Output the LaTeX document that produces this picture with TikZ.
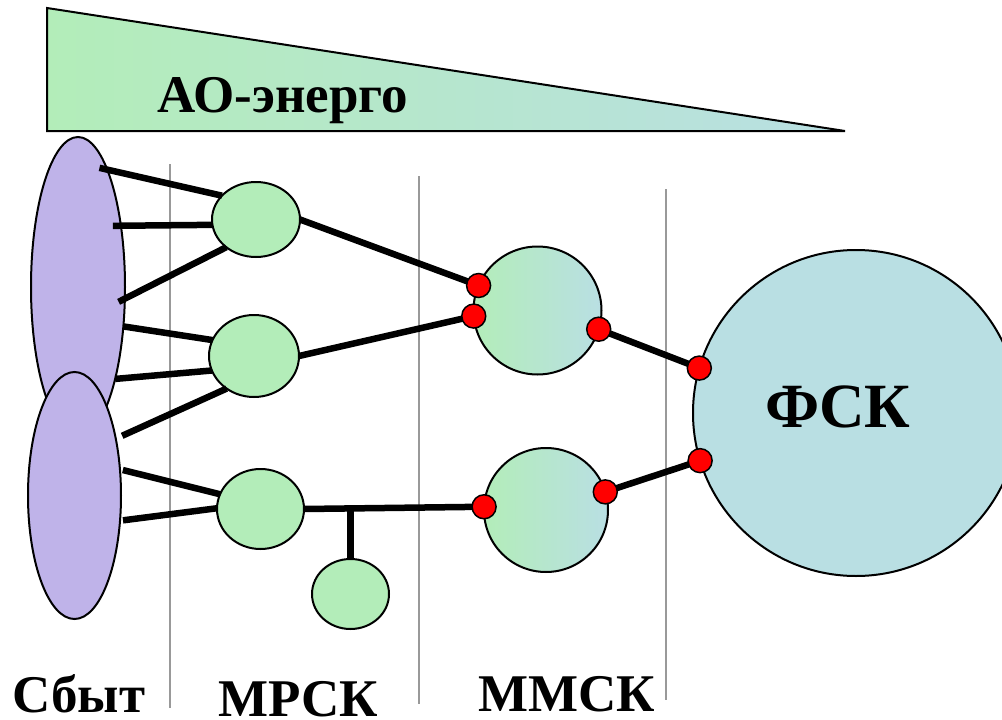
\documentclass[tikz,border=0pt]{standalone}
\usepackage{fontspec}
\setmainfont{Liberation Serif}
\usetikzlibrary{shapes.geometric, positioning}
\usepackage{xcolor}
\definecolor{sbytfill}{HTML}{BFB3E9}
\definecolor{mrskfill}{HTML}{B3EDB9}
\definecolor{fskfill}{HTML}{B9DFE3}
\definecolor{divgray}{HTML}{999999}

\begin{document}
\begin{tikzpicture}[x=1pt, y=-1pt,
    sbyt/.style={draw, ellipse, fill=sbytfill, line width=2pt, inner sep=0pt, outer sep=0pt},
    mrsk/.style={draw, ellipse, fill=mrskfill, line width=2pt, inner sep=0pt, outer sep=0pt},
    mmsk/.style={draw, circle, left color=mrskfill, right color=fskfill, line width=2pt, inner sep=0pt, outer sep=0pt},
    port/.style={draw, circle, fill=red, line width=1.5pt, minimum size=24pt, inner sep=0pt},
    link/.style={line width=6.5pt},
    divider/.style={divgray, line width=1.8pt},
    big/.style={font=\bfseries\fontsize{53}{60}\selectfont, inner sep=0pt, anchor=base},
    huge/.style={font=\bfseries\fontsize{63}{72}\selectfont, inner sep=0pt, anchor=base}]

    \useasboundingbox (0,0) rectangle (1002,720);

    % AO-energo wedge
    \shadedraw[left color=mrskfill, right color=fskfill, line width=2pt] (47,8) -- (845,131) -- (47,131) -- cycle;
    \node[big] (aolabel) at (283,112) {АО-энерго};

    % dividers
    \draw[divider] (170,164) -- (170,708);
    \draw[divider] (419,176) -- (419,704);
    \draw[divider] (666,189) -- (666,700);

    \node[sbyt, minimum width=94pt, minimum height=300pt] (sb1) at (78,287) {};
    \node[sbyt, minimum width=93pt, minimum height=247pt] (sb2) at (74.5,495.5) {};

    \node[mrsk, minimum width=88pt, minimum height=75pt] (g1) at (256,219.5) {};
    \node[mrsk, minimum width=90pt, minimum height=82pt] (g2) at (254,356) {};
    \node[mrsk, minimum width=87pt, minimum height=80pt] (g3) at (260.5,509) {};
    \node[mrsk, minimum width=77pt, minimum height=70pt] (g4) at (350.5,594) {};

    \node[mmsk, minimum size=128pt] (mm1) at (537.5,310.5) {};
    \node[mmsk, minimum size=124pt] (mm2) at (546,510) {};
    \node[draw, circle, fill=fskfill, line width=2pt, minimum size=326pt, inner sep=0pt, outer sep=0pt] (fsk) at (856,413) {};
    \node[huge] (fsklabel) at (838,427) {ФСК};

    % ports
    \coordinate (p1) at (mm1.157);
    \coordinate (p2) at (mm1.185);
    \coordinate (p3) at (mm1.-17);
    \coordinate (p4) at (fsk.164);
    \coordinate (p5) at (fsk.197);
    \coordinate (p6) at (mm2.177);
    \coordinate (p7) at (mm2.17);

    \draw[link, shorten <=-8pt] (sb1.76) -- (g1.145);
    \draw[link, shorten <=-8pt] (sb1.55) -- (g1.187);
    \draw[link, shorten <=-7pt] (sb1.-14) -- (g1.223);
    \draw[link] (sb1.-41) -- (g2.159);
    \draw[link] (sb1.-68) -- (g2.199);
    \draw[link, shorten <=7pt] (sb2.54) -- (g2.230);
    \draw[link, shorten <=3pt] (sb2.30) -- (g3.160);
    \draw[link, shorten <=3pt] (sb2.-29) -- (g3.179);

    \draw[link] (g1.east) -- (p1);
    \draw[link] (g2.east) -- (p2);
    \draw[link] (g3.east) -- (p6);
    \draw[link] (g4.north) -- (g4.north |- g3.east);
    \draw[link] (p3) -- (p4);
    \draw[link] (p7) -- (p5);

    \foreach \p in {1,...,7}
        \node[port] (r\p) at (p\p) {};

    \node[big] (sbytlabel) at (79,712) {Сбыт};
    \node[big] (mrsklabel) at (298,716) {МРСК};
    \node[big] (mmsklabel) at (567,711) {ММСК};
\end{tikzpicture}
\end{document}
